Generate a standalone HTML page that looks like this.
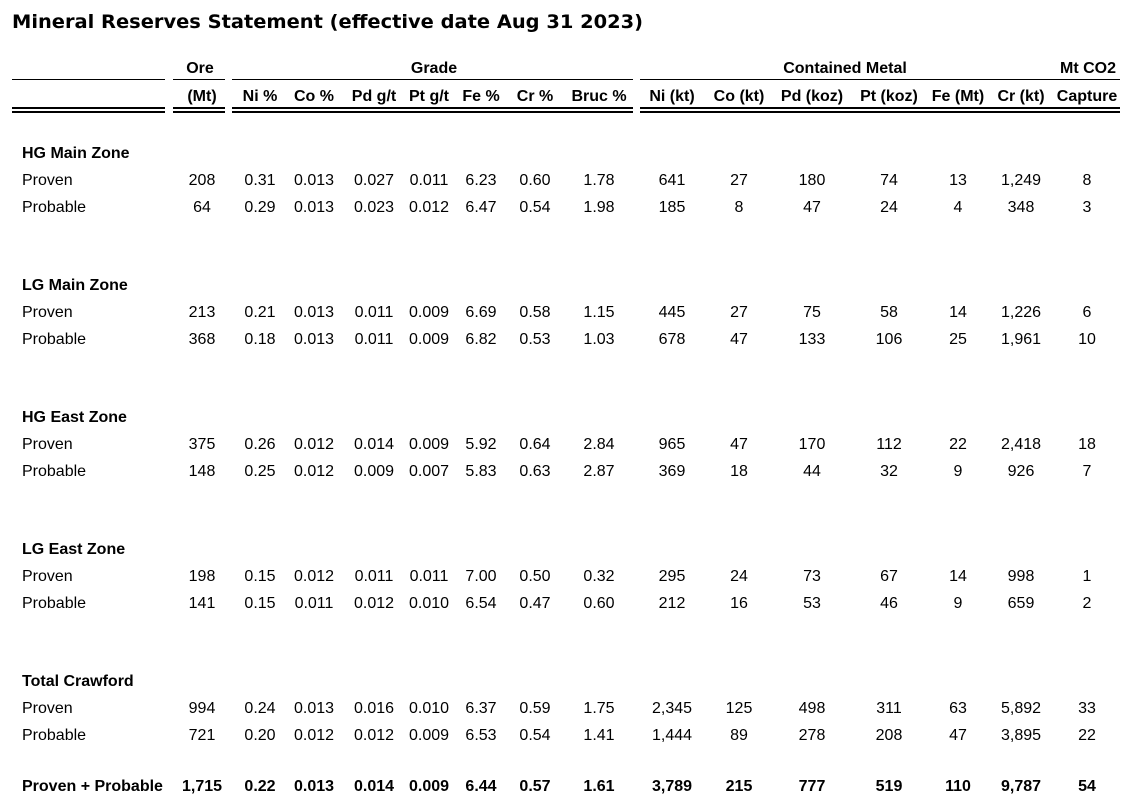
<!DOCTYPE html>
<html><head><meta charset="utf-8"><style>
html,body{margin:0;padding:0;background:#fff;font-family:"Liberation Sans",Arial,Helvetica,sans-serif;}
svg{display:block;font-family:"Liberation Sans",Arial,Helvetica,sans-serif;}
svg text{font-family:"Liberation Sans",Arial,Helvetica,sans-serif;font-size:16px;fill:#000}
svg text.b{font-weight:bold}
svg text.c{text-anchor:middle}
svg text.title{font-family:"DejaVu Sans",Verdana,sans-serif;font-size:19px;font-weight:bold}
</style></head><body>
<svg width="1140" height="811" xmlns="http://www.w3.org/2000/svg" font-family="Liberation Sans, Arial, sans-serif">
<text class="title" x="12" y="28" textLength="631" lengthAdjust="spacingAndGlyphs">Mineral Reserves Statement (effective date Aug 31 2023)</text>
<g stroke="#000">
<line x1="12" y1="79.5" x2="165" y2="79.5"/><line x1="173" y1="79.5" x2="225" y2="79.5"/><line x1="232" y1="79.5" x2="633" y2="79.5"/><line x1="640" y1="79.5" x2="1120" y2="79.5"/>
<g stroke-width="2"><line x1="12" y1="108" x2="165" y2="108"/><line x1="173" y1="108" x2="225" y2="108"/><line x1="232" y1="108" x2="633" y2="108"/><line x1="640" y1="108" x2="1120" y2="108"/>
<line x1="12" y1="112" x2="165" y2="112"/><line x1="173" y1="112" x2="225" y2="112"/><line x1="232" y1="112" x2="633" y2="112"/><line x1="640" y1="112" x2="1120" y2="112"/></g>
</g>
<text class="b c" x="200" y="73">Ore</text><text class="b c" x="434" y="73">Grade</text><text class="b c" x="845" y="73">Contained Metal</text><text class="b c" x="1088" y="73">Mt CO2</text>
<script>
const cx=[202,260,314,374,429,481,535,599,672,739,812,889,958,1021,1087];
const hdr=["(Mt)","Ni %","Co %","Pd g/t","Pt g/t","Fe %","Cr %","Bruc %","Ni (kt)","Co (kt)","Pd (koz)","Pt (koz)","Fe (Mt)","Cr (kt)","Capture"];
const secs=[
["HG Main Zone",158,[["Proven","208 0.31 0.013 0.027 0.011 6.23 0.60 1.78 641 27 180 74 13 1,249 8"],["Probable","64 0.29 0.013 0.023 0.012 6.47 0.54 1.98 185 8 47 24 4 348 3"]]],
["LG Main Zone",290,[["Proven","213 0.21 0.013 0.011 0.009 6.69 0.58 1.15 445 27 75 58 14 1,226 6"],["Probable","368 0.18 0.013 0.011 0.009 6.82 0.53 1.03 678 47 133 106 25 1,961 10"]]],
["HG East Zone",422,[["Proven","375 0.26 0.012 0.014 0.009 5.92 0.64 2.84 965 47 170 112 22 2,418 18"],["Probable","148 0.25 0.012 0.009 0.007 5.83 0.63 2.87 369 18 44 32 9 926 7"]]],
["LG East Zone",554,[["Proven","198 0.15 0.012 0.011 0.011 7.00 0.50 0.32 295 24 73 67 14 998 1"],["Probable","141 0.15 0.011 0.012 0.010 6.54 0.47 0.60 212 16 53 46 9 659 2"]]],
["Total Crawford",686,[["Proven","994 0.24 0.013 0.016 0.010 6.37 0.59 1.75 2,345 125 498 311 63 5,892 33"],["Probable","721 0.20 0.012 0.012 0.009 6.53 0.54 1.41 1,444 89 278 208 47 3,895 22"]]]];
const NS="http://www.w3.org/2000/svg",svg=document.querySelector("svg");
function t(x,y,s,cls){const e=document.createElementNS(NS,"text");e.setAttribute("x",x);e.setAttribute("y",y);if(cls)e.setAttribute("class",cls);e.textContent=s;svg.appendChild(e);}
hdr.forEach((h,i)=>t(cx[i],101,h,"b c"));
secs.forEach(s=>{t(22,s[1],s[0],"b");s[2].forEach((r,j)=>{const y=s[1]+27*(j+1);t(22,y,r[0]);r[1].split(" ").forEach((v,i)=>t(cx[i],y,v,"c"));});});
t(22,791,"Proven + Probable","b");
"1,715 0.22 0.013 0.014 0.009 6.44 0.57 1.61 3,789 215 777 519 110 9,787 54".split(" ").forEach((v,i)=>t(cx[i],791,v,"b c"));
</script>
</svg>
</body></html>
